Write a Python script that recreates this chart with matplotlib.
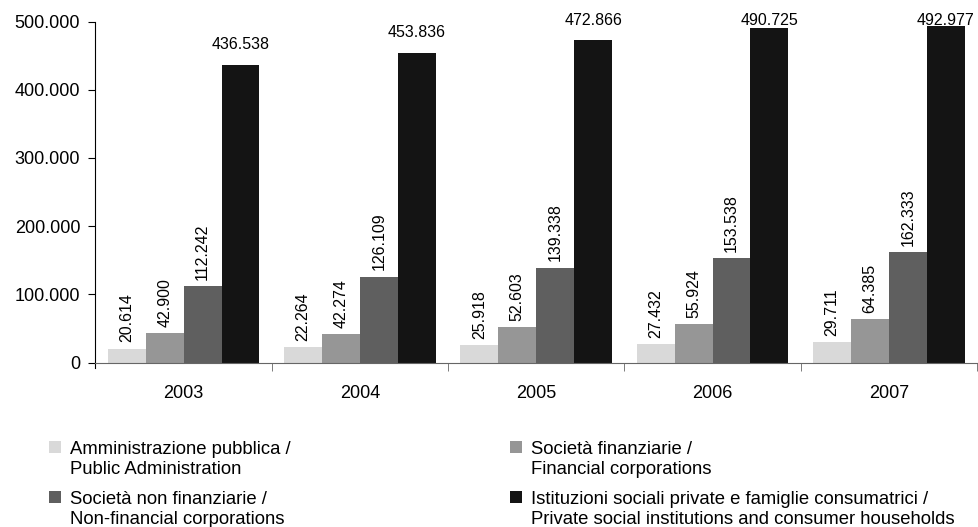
import numpy as np
import matplotlib.pyplot as plt
from matplotlib.patches import Rectangle
from matplotlib.legend_handler import HandlerPatch
from matplotlib.ticker import FuncFormatter

years = ["2003", "2004", "2005", "2006", "2007"]
pubblica = [20614, 22264, 25918, 27432, 29711]
finanziarie = [42900, 42274, 52603, 55924, 64385]
non_finanziarie = [112242, 126109, 139338, 153538, 162333]
istituzioni = [436538, 453836, 472866, 490725, 492977]

labels = [
    "Amministrazione pubblica /\nPublic Administration",
    "Società finanziarie /\nFinancial corporations",
    "Società non finanziarie /\nNon-financial corporations",
    "Istituzioni sociali private e famiglie consumatrici /\nPrivate social institutions and consumer households",
]
colors = ["#d9d9d9", "#969696", "#5f5f5f", "#141414"]

plt.rcParams['font.family'] = ['Liberation Sans', 'DejaVu Sans']

def fmt(v):
    return f"{v:,}".replace(",", ".")

# legend square sits on the first line of the two-line label
def top_square(legend, orig_handle, xdescent, ydescent, width, height, fontsize):
    return Rectangle((-xdescent, -ydescent + fontsize * 0.66), width, height)

fig = plt.figure(figsize=(9.79, 5.27), dpi=100)
ax = fig.add_axes([0.0975, 0.312, 0.9005, 0.647])

series = [pubblica, finanziarie, non_finanziarie, istituzioni]
x = np.arange(len(years))
w = 0.215
bars = []
for i, (vals, c) in enumerate(zip(series, colors)):
    pos = x + (i - 1.5) * w
    b = ax.bar(pos, vals, w, color=c, label=labels[i])
    bars.append(b)
    for p, v in zip(pos, vals):
        if i < 3:
            ax.text(p, v + 9000, fmt(v), rotation=90, ha="center", va="bottom", fontsize=11.5)
        else:
            ax.text(p, min(v + 30000, 501500), fmt(v), ha="center", va="center", fontsize=11.5)

ax.set_xlim(-0.5, len(years) - 0.5)
ax.set_ylim(0, 500000)
ax.set_yticks(np.arange(0, 500001, 100000))
ax.yaxis.set_major_formatter(FuncFormatter(lambda v, _: fmt(int(v))))
ax.set_xticks(x)
ax.set_xticklabels(years)
ax.set_xticks(np.arange(0.5, len(years) - 0.5 + 0.01, 1.0), minor=True)
ax.tick_params(axis="x", which="major", length=0, labelsize=13, pad=16)
ax.tick_params(axis="x", which="minor", length=6, color="#666666")
ax.tick_params(axis="y", length=5, labelsize=13, pad=6)

ax.spines["top"].set_visible(False)
ax.spines["right"].set_visible(False)
ax.spines["bottom"].set_color("#666666")
ax.spines["left"].set_bounds(-8000, 500000)

order = [0, 2, 1, 3]
handles = [bars[k].patches[0] for k in order]
hl = [labels[k] for k in order]
fig.legend(handles, hl, ncol=2, loc="upper left", bbox_to_anchor=(0.05, 0.163),
           frameon=False, fontsize=13.3, handlelength=0.65, handleheight=0.65,
           handletextpad=0.5, columnspacing=11.85, labelspacing=0.72,
           borderaxespad=0, borderpad=0,
           handler_map={Rectangle: HandlerPatch(patch_func=top_square)})

fig.savefig("out.png", dpi=100)
